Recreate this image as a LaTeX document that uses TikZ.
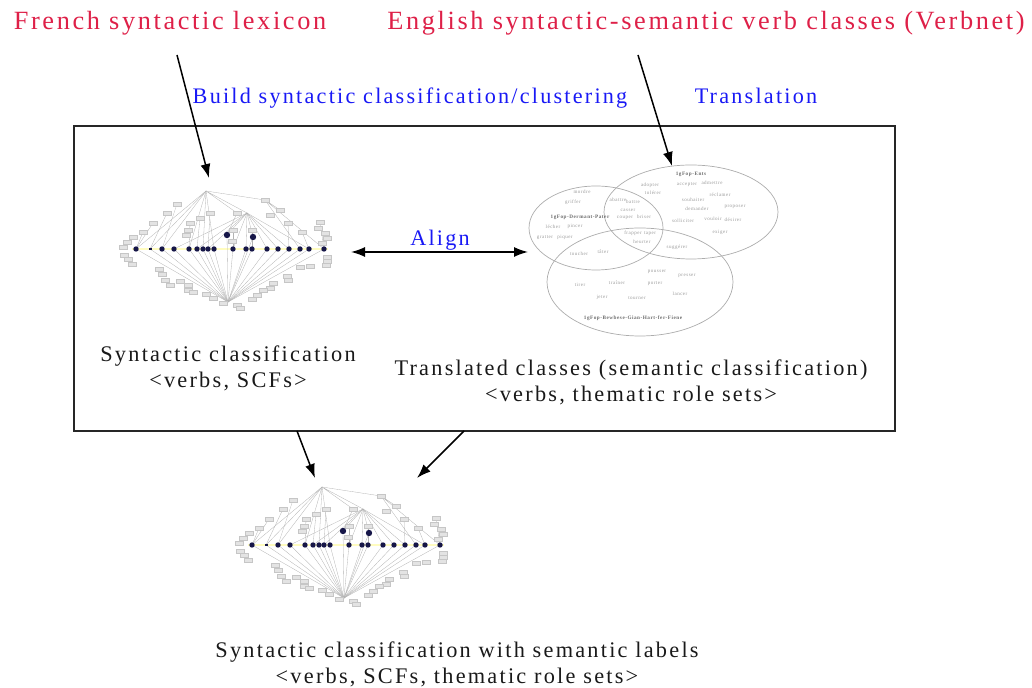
\documentclass[tikz,border=0pt]{standalone}
\usepackage{fontspec}
\setmainfont{Liberation Serif}[LetterSpace=10]
\usetikzlibrary{arrows.meta}
\definecolor{redtxt}{RGB}{222,32,72}
\definecolor{bluetxt}{RGB}{25,25,245}
\definecolor{dotc}{RGB}{22,22,72}
\tikzset{
  ledge/.style={draw=gray!60, line width=0.15pt},
  lab/.style={draw=gray!45, fill=gray!22, line width=0.12pt},
  pics/lattice/.style={code={
    \draw[yellow!25, line width=1pt] (-74,58) -- (122,58);
    \foreach \x in {-70,-56,-44,-32,-17,-9,-3,2,8,27,40,46,61,72,83,94,103,118}
      {\draw[ledge] (\x,58) -- (22,111);}
    \draw[ledge] (21,44) -- (22,111) (47,46) -- (22,111);
    \foreach \x in {-70,-56,-44,-17,-3,8}
      {\draw[ledge] (0,0) -- (\x,58);}
    \draw[ledge] (0,0) -- (59,9) -- (118,58) (59,9) -- (94,58) (59,9) -- (74,19);
    \draw[ledge] (0,0) -- (41,22) (0,0) -- (31,22);
    \foreach \x in {-32,-9,2,27,40,61,72,83,103}
      {\draw[ledge] (41,22) -- (\x,58);}
    \draw[ledge] (41,22) -- (47,46) (41,22) -- (21,44) (31,22) -- (21,44);
    \foreach \a/\b/\c in {-29/13/-44,-39/22/-56,-53/32/-70,-63/41/-70,-6/27/-9,-16/32/-17,82/32/83,96/41/103,114/31/118,4/22/2,27/39/27,46/39/46}
      {\draw[ledge] (\a,\b) -- (\c,58);}
    \foreach \a/\b in {-29/13,-39/22,-53/32,-63/41,-73/46,-79/51,-83/56,-82/64,-78/68,-74/73,
       -47/78,-44/83,-41/89,-36/94,-26/90,-18/94,-18/99,-13/101,0/103,7/107,17/112,31/114,34/117,
       94/76,104/75,81/85,82/89,67/92,64/97,57/99,51/104,46/108,
       114/31,112/37,119/42,121/47,116/52,121/66,121/70,120/74,
       59/9,74/19,64/24,31/22,4/22,-6/27,-16/32,-18/39,-20/44,27/39,26/50,46/39,82/32,96/41}
      {\draw[lab] ({\a-4},{\b-1.8}) rectangle ({\a+4},{\b+1.8});}
    \foreach \x in {-70,-44,-32,-17,-9,-3,2,8,27,40,46,61,72,83,94,103,118}
      {\fill[dotc] (\x,58) circle[radius=2.7];}
    \fill[dotc] (-57.5,57) rectangle (-54.5,59);
    \fill[dotc] (21,44) circle[radius=3.2];
    \fill[dotc] (47,46) circle[radius=3.2];
  }}
}
\begin{document}
\begin{tikzpicture}[x=0.5pt,y=-0.5pt,
  redlab/.style={text=redtxt, font=\fontsize{13.15}{15}\selectfont, inner sep=0, anchor=base},
  bluelab/.style={text=bluetxt, font=\fontsize{11.1}{13}\selectfont, inner sep=0, anchor=base},
  blklab/.style={text=black!90, font=\fontsize{11.15}{13}\selectfont, inner sep=0, align=center},
  arr/.style={-{Latex[length=7pt,width=5pt]}, line width=0.75pt},
  venn/.style={draw=gray!65, line width=0.35pt},
  vw/.style={text=gray!80, font=\fontsize{2.5}{2.7}\selectfont, inner sep=0},
  vt/.style={text=gray!85!black, font=\fontsize{2.6}{2.8}\selectfont\bfseries, inner sep=0}]
\useasboundingbox (0,0) rectangle (1032,688);

% titles
\node[redlab] (red1) at (170,30) {French syntactic lexicon};
\node[redlab] (red2) at (706,30) {English syntactic-semantic verb classes (Verbnet)};
\node[bluelab] (blue1) at (410,104) {Build syntactic classification/clustering};
\node[bluelab] (blue2) at (756,104) {Translation};

% big box
\draw[line width=0.75pt, draw=black!85] (74,126) rectangle (895,431);

% lattices
\pic at (206,191) {lattice};
\pic at (322,487) {lattice};

% Venn diagram
\draw[venn] (691,212) ellipse [x radius=87, y radius=47];
\draw[venn] (596,228) ellipse [x radius=67, y radius=42];
\draw[venn] (640,282) ellipse [x radius=93, y radius=54];
\node[vt] (vt1) at (691,174) {1gFop-Ents};
\node[vt] (vt2) at (580,217) {1gFop-Dermant-Pater};
\node[vt] (vt3) at (633,318) {1gFop-Bewbese-Gian-Hart-fer-Fiene};
\foreach \a/\b/\w [count=\i] in {650/185/adopter,687/185/accepter,712/183/admettre,653/193/tol\'erer,
   693/200/souhaiter,720/195/r\'eclamer,697/209/demander,735/207/proposer,683/221/solliciter,
   713/219/vouloir,733/220/d\'esirer,720/232/exiger,677/247/sugg\'erer,
   618/200/abattre,633/202/battre,628/210/casser,625/218/couper,644/217/briser,
   633/233/frapper,650/234/taper,642/242/heurter,
   582/192/mordre,573/202/griffer,553/227/l\'echer,575/226/pincer,545/238/gratter,565/237/piquer,
   579/254/toucher,603/252/t\^ater,
   657/272/pousser,687/276/presser,580/285/tirer,617/283/tra\^iner,655/284/porter,680/294/lancer,
   602/297/jeter,637/298/tourner}
  {\node[vw] (vw\i) at (\a,\b) {\w};}

% texts in box
\node[blklab] (syn) at (228,368) {Syntactic classification\\\textless verbs, SCFs\textgreater};
\node[blklab] (trans) at (631,382) {Translated classes (semantic classification)\\\textless verbs, thematic role sets\textgreater};
\node[blklab] (final) at (457,664) {Syntactic classification with semantic labels\\\textless verbs, SCFs, thematic role sets\textgreater};
\node[bluelab] (align) at (440,246) {Align};

% connectors
\coordinate (f1) at (177,55);
\coordinate (f2) at (209,178);
\coordinate (e1) at (638,55);
\coordinate (e2) at (672,166);
\coordinate (al1) at (351,252);
\coordinate (al2) at (528,252);
\coordinate (d1s) at (297,431);
\coordinate (d1e) at (315,478);
\coordinate (d2s) at (464,431);
\coordinate (d2e) at (417,478);
\draw[arr] (f1) -- (f2);
\draw[arr] (e1) -- (e2);
\draw[arr, {Latex[length=7pt,width=5pt]}-{Latex[length=7pt,width=5pt]}] (al1) -- (al2);
\draw[arr] (d1s) -- (d1e);
\draw[arr] (d2s) -- (d2e);
\end{tikzpicture}
\end{document}
